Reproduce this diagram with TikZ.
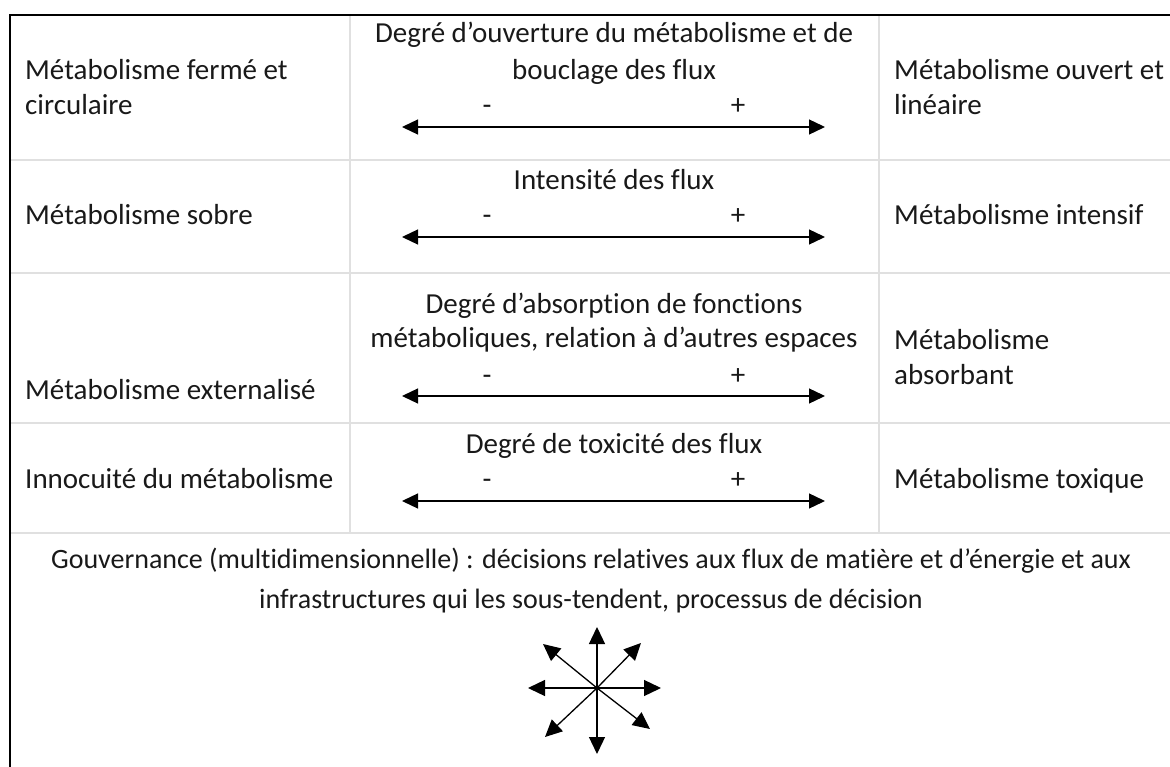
\documentclass[tikz,border=0pt]{standalone}
\usepackage{fontspec}
\setmainfont{Carlito}[Ligatures=NoCommon]
\usetikzlibrary{arrows.meta}
\begin{document}
\begin{tikzpicture}[x=1pt,y=-1pt,
  txt/.style={inner sep=0pt,anchor=base west,font=\fontsize{29}{35}\selectfont,text=black!90},
  ctxt/.style={inner sep=0pt,anchor=base,font=\fontsize{29}{35}\selectfont,text=black!90},
  gtxt/.style={inner sep=0pt,anchor=base,font=\fontsize{28}{35}\selectfont,text=black!90},
  grid/.style={draw=black!12,line width=1.5pt},
  frame/.style={draw=black,line width=2pt},
  scale arrow/.style={line width=1.3pt,{Triangle[length=16pt,width=15pt]}-{Triangle[length=16pt,width=15pt]}},
  ray/.style={line width=1.3pt,-{Triangle[length=17pt,width=16pt]}}]
\useasboundingbox (0,0) rectangle (1170,767);
% grid lines
\draw[grid] (10,160) -- (1170,160);
\draw[grid] (10,273) -- (1170,273);
\draw[grid] (10,423) -- (1170,423);
\draw[grid] (10,533) -- (1170,533);
\draw[grid] (350,15) -- (350,533);
\draw[grid] (879,15) -- (879,533);
% frame
\draw[frame] (10,767) -- (10,15) -- (1170,15);
% row 1
\node[txt] (l1a) at (25,80) {Métabolisme fermé et};
\node[txt] (l1b) at (25,115) {circulaire};
\node[ctxt] (c1a) at (614,43) {Degré d’ouverture du métabolisme et de};
\node[ctxt] (c1b) at (614,80) {bouclage des flux};
\node[ctxt] (m1) at (487,115) {-};
\node[ctxt] (p1) at (738,115) {+};
\node[txt] (r1a) at (894,80) {Métabolisme ouvert et};
\node[txt] (r1b) at (894,115) {linéaire};
\coordinate (a1l) at (402,127);
\coordinate (a1r) at (825,127);
\draw[scale arrow] (a1l) -- (a1r);
% row 2
\node[txt] (l2) at (25,225) {Métabolisme sobre};
\node[ctxt] (c2) at (614,190) {Intensité des flux};
\node[ctxt] (m2) at (487,225) {-};
\node[ctxt] (p2) at (738,225) {+};
\node[txt] (r2) at (894,225) {Métabolisme intensif};
\coordinate (a2l) at (402,237);
\coordinate (a2r) at (825,237);
\draw[scale arrow] (a2l) -- (a2r);
% row 3
\node[txt] (l3) at (25,399) {Métabolisme externalisé};
\node[ctxt] (c3a) at (614,313) {Degré d’absorption de fonctions};
\node[ctxt] (c3b) at (614,348) {métaboliques, relation à d’autres espaces};
\node[ctxt] (m3) at (487,384) {-};
\node[ctxt] (p3) at (738,384) {+};
\node[txt] (r3a) at (894,349) {Métabolisme};
\node[txt] (r3b) at (894,384) {absorbant};
\coordinate (a3l) at (402,396);
\coordinate (a3r) at (825,396);
\draw[scale arrow] (a3l) -- (a3r);
% row 4
\node[txt] (l4) at (25,488) {Innocuité du métabolisme};
\node[ctxt] (c4) at (614,453) {Degré de toxicité des flux};
\node[ctxt] (m4) at (487,488) {-};
\node[ctxt] (p4) at (738,488) {+};
\node[txt] (r4) at (894,488) {Métabolisme toxique};
\coordinate (a4l) at (402,501);
\coordinate (a4r) at (825,501);
\draw[scale arrow] (a4l) -- (a4r);
% governance
\node[gtxt] (g1) at (591,568) {Gouvernance (multidimensionnelle) : décisions relatives aux flux de matière et d’énergie et aux};
\node[gtxt] (g2) at (591,608) {infrastructures qui les sous-tendent, processus de décision};
% star
\coordinate (sc) at (597,688);
\coordinate (sN) at (597,627);
\coordinate (sS) at (597,754);
\coordinate (sW) at (528,688);
\coordinate (sE) at (661,688);
\coordinate (sNW) at (543,644);
\coordinate (sNE) at (641,643);
\coordinate (sSW) at (545,737);
\coordinate (sSE) at (650,729);
\foreach \t in {sN,sS,sW,sE,sNW,sNE,sSW,sSE} \draw[ray] (sc) -- (\t);
\end{tikzpicture}
\end{document}
